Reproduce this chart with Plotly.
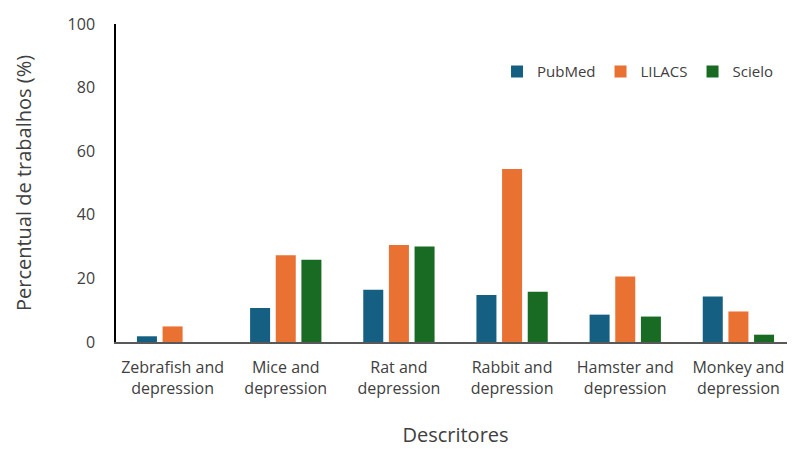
import plotly.graph_objects as go

categories = ["Zebrafish and<br>depression", "Mice and<br>depression", "Rat and<br>depression",
              "Rabbit and<br>depression", "Hamster and<br>depression", "Monkey and<br>depression"]
pubmed = [1.8, 10.7, 16.4, 14.8, 8.6, 14.3]
lilacs = [4.9, 27.3, 30.5, 54.4, 20.6, 9.6]
scielo = [0, 25.9, 30.0, 15.8, 8.0, 2.3]
y_ticks = [0, 20, 40, 60, 80, 100]

font = "Open Sans, Liberation Sans, Arial, sans-serif"
fig = go.Figure()
for name, vals, col in [("PubMed", pubmed, "#156082"), ("LILACS", lilacs, "#E97132"), ("Scielo", scielo, "#196B24")]:
    fig.add_trace(go.Bar(name=name, x=categories, y=vals, marker=dict(color=col, line=dict(width=0))))

fig.update_layout(
    width=787, height=441, barmode="group", bargap=0.32, bargroupgap=0.22,
    paper_bgcolor="white", plot_bgcolor="white",
    margin=dict(l=108, r=0, t=16, b=107),
    font=dict(family=font, color="#404040", size=15),
    legend=dict(orientation="h", x=0.975, y=0.85, xanchor="right", yanchor="middle",
                font=dict(size=15, color="#404040"), itemwidth=30, traceorder="normal"),
    showlegend=True,
)
fig.update_yaxes(range=[0, 100], tickvals=y_ticks, showgrid=False, showline=True, linecolor="#000000",
                 linewidth=1.5, ticks="", ticklabelstandoff=16, zeroline=False,
                 tickfont=dict(size=16, color="#404040"),
                 title=dict(text="Percentual de trabalhos (%)", font=dict(size=20, color="#404040"), standoff=31))
fig.update_xaxes(showline=True, linecolor="#595959", linewidth=2, showgrid=False, ticks="",
                 ticklabelstandoff=10,
                 tickfont=dict(size=16, color="#404040"),
                 title=dict(text="Descritores", font=dict(size=20, color="#404040"), standoff=30))
fig.write_html("out.html")
